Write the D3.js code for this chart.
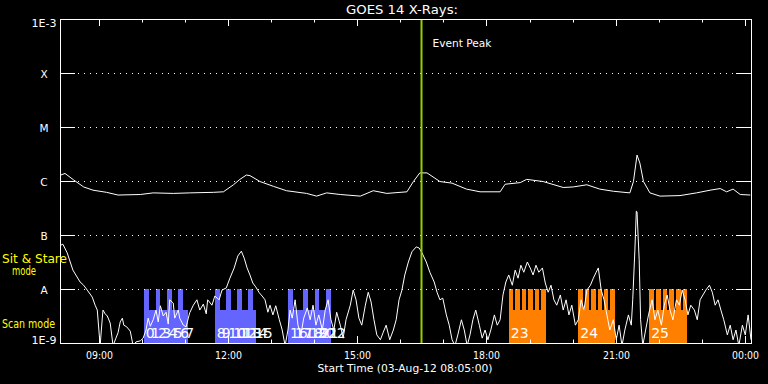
<!DOCTYPE html>
<html lang="en">
<head>
<meta charset="UTF-8">
<script src="https://cdnjs.cloudflare.com/ajax/libs/d3/7.8.5/d3.min.js"></script>
<style>
  body { margin: 0; background: #000; }
  svg { display: block; font-family: "DejaVu Sans", sans-serif; }
</style>
</head>
<body>
<svg width="768" height="384"></svg>
<script>
// plot runs from the start time for about 16 hours, minutes are counted from startTime
var startTime = new Date(2012, 7, 3, 8, 5, 0);
var endMinute = 964;
var peakMinute = 504;

var levelNames = ["1E-9", "A", "B", "C", "M", "X", "1E-3"];
var levelFlux = [1e-9, 1e-8, 1e-7, 1e-6, 1e-5, 1e-4, 1e-3];

// long channel (1-8 A), log10 flux
var longMinutes = [1, 7, 19, 33, 46, 65, 81, 112, 130, 158, 181, 214, 228, 242, 251, 260, 265, 279, 298, 316,
  344, 358, 372, 391, 419, 437, 456, 484, 493, 502, 512, 530, 547, 567, 586, 614, 621, 642, 651, 674,
  702, 716, 735, 753, 772, 795, 800, 805, 809, 814, 823, 837, 865, 888, 907, 921, 930, 939, 949, 963];
var longLog = [-5.89, -5.86, -5.98, -6.11, -6.17, -6.21, -6.26, -6.25, -6.22, -6.23, -6.22, -6.21, -6.20, -6.07, -5.97, -5.89, -5.90, -6.01, -6.10, -6.18,
  -6.23, -6.28, -6.22, -6.25, -6.28, -6.18, -6.23, -6.20, -6.01, -5.85, -5.85, -6.01, -6.04, -6.15, -6.20, -6.20, -6.06, -6.03, -5.97, -6.01,
  -6.12, -6.11, -6.07, -6.15, -6.19, -6.22, -6.01, -5.52, -5.67, -6.01, -6.22, -6.28, -6.27, -6.22, -6.17, -6.14, -6.20, -6.15, -6.25, -6.26];

// short channel (0.5-4 A), log10 flux
var shortMinutes = [1, 4, 10, 18, 28, 33, 38, 45, 49, 52, 56, 59, 60, 63, 66, 70, 74, 78, 81, 84,
  87, 89, 93, 98, 102, 106, 112, 116, 120, 123, 126, 130, 134, 137, 140, 144, 148, 151, 153, 158,
  160, 165, 167, 172, 176, 179, 181, 186, 191, 195, 200, 204, 206, 212, 216, 222, 226, 232, 237, 243,
  248, 253, 257, 261, 265, 269, 273, 278, 282, 286, 290, 293, 297, 301, 306, 310, 314, 318, 321, 324,
  328, 332, 336, 340, 345, 349, 353, 357, 361, 366, 370, 374, 378, 382, 386, 391, 395, 399, 405, 409,
  413, 417, 421, 426, 430, 434, 438, 442, 447, 451, 455, 460, 465, 469, 473, 477, 481, 486, 491, 497,
  501, 505, 511, 516, 522, 526, 530, 534, 539, 543, 547, 551, 555, 560, 564, 568, 572, 576, 580, 585,
  589, 593, 597, 601, 606, 610, 614, 618, 622, 626, 631, 635, 639, 643, 647, 652, 656, 660, 664, 668,
  673, 677, 681, 685, 689, 693, 698, 702, 706, 710, 714, 719, 723, 727, 731, 735, 740, 744, 748, 751,
  755, 759, 763, 767, 772, 776, 780, 784, 788, 793, 797, 799, 802, 804, 805, 808, 810, 813, 817, 821,
  826, 830, 834, 839, 843, 847, 851, 855, 860, 864, 868, 872, 876, 880, 885, 889, 893, 897, 901, 906,
  910, 914, 918, 922, 926, 931, 935, 939, 943, 947, 952, 956, 960, 964];
var shortLog = [-7.19, -7.17, -7.33, -7.65, -7.87, -7.93, -8.02, -8.15, -8.30, -8.39, -9.05, -8.54, -8.39, -8.46, -8.50, -8.63, -9.05, -8.91, -8.81, -8.61,
  -8.54, -8.67, -8.70, -8.78, -9.05, -8.98, -8.96, -8.91, -8.76, -8.54, -8.69, -8.57, -8.39, -8.61, -8.31, -8.50, -8.43, -8.65, -8.20, -8.26,
  -8.54, -8.39, -8.54, -8.67, -8.70, -8.54, -8.44, -8.30, -8.20, -8.39, -8.28, -8.46, -8.20, -8.30, -8.13, -8.20, -8.02, -7.98, -7.80, -7.61,
  -7.39, -7.30, -7.43, -7.61, -7.74, -7.89, -7.96, -8.07, -8.13, -8.20, -8.43, -8.30, -8.48, -8.31, -8.57, -8.76, -9.05, -8.76, -8.39, -8.54,
  -8.20, -8.67, -8.85, -8.54, -8.35, -8.57, -8.30, -8.67, -8.48, -8.76, -8.39, -8.20, -8.57, -8.76, -8.43, -8.67, -8.91, -8.57, -8.30, -8.02,
  -8.20, -8.54, -8.67, -8.30, -8.06, -8.24, -8.57, -8.85, -8.94, -8.80, -8.67, -8.94, -8.76, -8.57, -8.20, -8.02, -7.74, -7.50, -7.31, -7.22,
  -7.24, -7.33, -7.50, -7.69, -7.87, -8.06, -8.20, -8.17, -8.48, -8.67, -8.94, -9.05, -8.85, -8.57, -8.76, -9.05, -8.85, -8.57, -8.39, -8.67,
  -8.91, -8.76, -8.94, -8.76, -8.48, -8.67, -8.57, -8.11, -7.87, -7.74, -7.93, -7.65, -7.80, -7.56, -7.69, -7.50, -7.61, -7.74, -7.56, -7.69,
  -7.61, -7.89, -8.06, -7.93, -8.20, -8.30, -8.11, -8.39, -8.20, -8.48, -8.30, -8.67, -8.57, -8.20, -8.39, -8.02, -7.93, -7.80, -7.69, -7.61,
  -8.02, -8.20, -8.48, -8.76, -8.57, -8.94, -8.67, -9.05, -8.76, -8.48, -8.67, -8.20, -7.28, -6.56, -6.57, -7.46, -8.57, -9.05, -8.76, -8.48,
  -8.20, -8.57, -8.39, -8.67, -8.30, -8.11, -8.39, -8.57, -8.20, -8.30, -8.02, -8.20, -8.48, -8.30, -8.39, -8.57, -8.20, -8.11, -8.02, -7.93,
  -8.06, -8.30, -8.20, -8.39, -8.57, -8.85, -8.67, -8.94, -8.76, -9.05, -8.67, -8.85, -8.48, -8.94];

// IRIS observations: number, start/end (minutes), mode
var obsNumber = [0, 1, 2, 3, 4, 5, 6, 7, 8, 9, 10, 11, 12, 13, 14, 15, 16, 17, 18, 19, 20, 21, 22, 23, 24, 25];
var obsStart = [117, 124, 134, 140, 149, 156, 165, 172, 216, 223, 232, 239, 247, 254, 262, 269, 318, 325, 339, 346, 356, 361, 371, 626, 723, 822];
var obsEnd = [124, 134, 140, 149, 156, 165, 172, 179, 223, 232, 239, 247, 254, 262, 269, 273, 325, 339, 346, 356, 361, 371, 378, 678, 774, 875];
var obsMode = ["scan", "scan", "scan", "scan", "scan", "scan", "scan", "scan", "scan", "scan", "scan", "scan", "scan",
  "scan", "scan", "scan", "scan", "scan", "scan", "scan", "scan", "scan", "scan", "stare", "stare", "stare"];
var stareFrames = 6;
var tallLevel = -8.0;   // log10 flux reached by tall bars
var shortLevel = -8.38; // log10 flux reached by short bars

var plotL = 60, plotR = 751, plotT = 19, plotB = 343;
var svg = d3.select("svg");
svg.append("rect").attr("width", 768).attr("height", 384).attr("fill", "#000");

var toDate = function(m) { return new Date(startTime.getTime() + m * 60000); };
var x = d3.scaleTime().domain([startTime, toDate(endMinute)]).range([plotL, plotR]);
var y = d3.scaleLog().domain([1e-9, 1e-3]).range([plotB, plotT]);

svg.append("clipPath").attr("id", "plot")
  .append("rect").attr("x", plotL).attr("y", plotT).attr("width", plotR - plotL).attr("height", plotB - plotT);

var g = svg.append("g").attr("clip-path", "url(#plot)");

// observation bars
obsNumber.forEach(function(n, i) {
  var x0 = x(toDate(obsStart[i])), x1 = x(toDate(obsEnd[i]));
  var yTall = y(Math.pow(10, tallLevel)), yShort = y(Math.pow(10, shortLevel));
  if (obsMode[i] == "scan") {
    var yy = (n % 2 == 0) ? yTall : yShort;
    g.append("rect").attr("x", x0).attr("width", x1 - x0)
      .attr("y", yy).attr("height", plotB - yy)
      .attr("fill", "#6464ff").attr("shape-rendering", "crispEdges");
  } else {
    g.append("rect").attr("x", x0).attr("width", x1 - x0)
      .attr("y", yTall).attr("height", plotB - yTall)
      .attr("fill", "#ff8000").attr("shape-rendering", "crispEdges");
    // black gaps between the frames of a sit & stare run
    var step = (x1 - x0 + 2) / stareFrames;
    for (var k = 1; k < stareFrames; k++) {
      g.append("rect").attr("x", x0 + k * step - 2).attr("width", 2)
        .attr("y", yTall).attr("height", yShort - yTall)
        .attr("fill", "#000").attr("shape-rendering", "crispEdges");
    }
  }
});

obsNumber.forEach(function(n, i) {
  g.append("text").attr("x", x(toDate(obsStart[i])) + 2).attr("y", 338)
    .attr("fill", "#fff").attr("font-size", 14).text(n);
});

// grid levels A..X
levelFlux.forEach(function(f, i) {
  if (i == 0 || i == levelFlux.length - 1) return;
  var yy = Math.round(y(f)) + 0.5;
  svg.append("line").attr("x1", plotL).attr("x2", plotL + 15).attr("y1", yy).attr("y2", yy).attr("stroke", "#fff");
  svg.append("line").attr("x1", plotR - 15).attr("x2", plotR).attr("y1", yy).attr("y2", yy).attr("stroke", "#fff");
  svg.append("line").attr("x1", plotL + 18).attr("x2", plotR - 15).attr("y1", yy).attr("y2", yy)
    .attr("stroke", "#fff").attr("stroke-dasharray", "1,5");
});

// curves
var line = d3.line()
  .x(function(d) { return x(toDate(d[0])); })
  .y(function(d) { return y(Math.pow(10, d[1])); });
g.append("path").datum(d3.zip(longMinutes, longLog)).attr("d", line)
  .attr("fill", "none").attr("stroke", "#fff").attr("stroke-width", 1);
g.append("path").datum(d3.zip(shortMinutes, shortLog)).attr("d", line)
  .attr("fill", "none").attr("stroke", "#fff").attr("stroke-width", 1);

// event peak
var px = Math.round(x(toDate(peakMinute))) + 0.5;
svg.append("line").attr("x1", px).attr("x2", px).attr("y1", plotT).attr("y2", plotB)
  .attr("stroke", "#9acd00").attr("stroke-width", 2);
svg.append("text").attr("x", px + 11).attr("y", 47).attr("fill", "#fff").attr("font-size", 11)
  .attr("textLength", 59).attr("lengthAdjust", "spacingAndGlyphs").text("Event Peak");

// frame
svg.append("rect").attr("x", plotL + 0.5).attr("y", plotT + 0.5).attr("width", plotR - plotL).attr("height", plotB - plotT)
  .attr("fill", "none").attr("stroke", "#fff");

// time ticks
var hours = x.ticks(d3.timeHour.every(1));
hours.forEach(function(h) {
  var xx = Math.round(x(h)) + 0.5;
  var major = h.getHours() % 3 == 0;
  var len = major ? 7 : 3.5;
  svg.append("line").attr("x1", xx).attr("x2", xx).attr("y1", plotB).attr("y2", plotB - len).attr("stroke", "#fff");
  svg.append("line").attr("x1", xx).attr("x2", xx).attr("y1", plotT).attr("y2", plotT + len).attr("stroke", "#fff");
  if (major) {
    svg.append("text").attr("x", xx).attr("y", 359).attr("text-anchor", "middle")
      .attr("fill", "#fff").attr("font-size", 10.5)
      .attr("textLength", 27).attr("lengthAdjust", "spacingAndGlyphs")
      .text(d3.timeFormat("%H:%M")(h));
  }
});

// level labels
levelNames.forEach(function(name, i) {
  var yy = y(levelFlux[i]) + 4.5;
  if (i == 0) yy = 344;
  if (i == levelNames.length - 1) yy = 26.5;
  var t = svg.append("text").attr("x", 44).attr("y", yy).attr("text-anchor", "middle")
    .attr("fill", "#fff").attr("font-size", 10.5).text(name);
  if (name.length > 1) t.attr("textLength", 25).attr("lengthAdjust", "spacingAndGlyphs");
});

svg.append("text").attr("x", 402).attr("y", 13.5).attr("text-anchor", "middle")
  .attr("fill", "#fff").attr("font-size", 11.5)
  .attr("textLength", 112).attr("lengthAdjust", "spacingAndGlyphs").text("GOES 14 X-Rays:");

svg.append("text").attr("x", 405).attr("y", 372).attr("text-anchor", "middle")
  .attr("fill", "#fff").attr("font-size", 10.5)
  .attr("textLength", 175).attr("lengthAdjust", "spacingAndGlyphs")
  .text("Start Time (" + d3.timeFormat("%d-%b-%y %H:%M:%S")(startTime) + ")");

// mode legend
svg.append("text").attr("x", 2).attr("y", 263).attr("fill", "#ffff00").attr("font-size", 12.5)
  .attr("textLength", 65).attr("lengthAdjust", "spacingAndGlyphs").text("Sit & Stare");
svg.append("text").attr("x", 12).attr("y", 275).attr("fill", "#ffff00").attr("font-size", 12.5)
  .attr("textLength", 24).attr("lengthAdjust", "spacingAndGlyphs").text("mode");
svg.append("text").attr("x", 2).attr("y", 328).attr("fill", "#ffff00").attr("font-size", 12.5)
  .attr("textLength", 53).attr("lengthAdjust", "spacingAndGlyphs").text("Scan mode");
</script>
</body>
</html>
